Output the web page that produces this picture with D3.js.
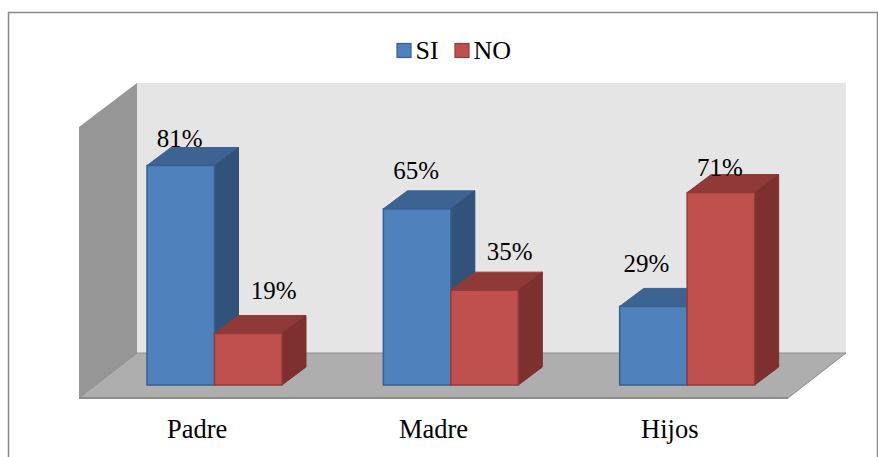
<!DOCTYPE html>
<html>
<head>
<meta charset="utf-8">
<script src="https://cdnjs.cloudflare.com/ajax/libs/d3/7.8.5/d3.min.js"></script>
<style>
html,body{margin:0;padding:0;background:#fff}
svg{display:block}
text{font-family:"Liberation Serif","Times New Roman",serif;fill:#000}
</style>
</head>
<body>
<svg id="chart" width="878" height="457"></svg>
<script>
const categories = ["Padre", "Madre", "Hijos"];
const seriesNames = ["SI", "NO"];
const siValues = [81, 65, 29];
const noValues = [19, 35, 71];
const seriesColors = {
  SI: {front: "#4f81bd", top: "#3c6391", side: "#315379", edge: "#38608f"},
  NO: {front: "#c0504d", top: "#8f3a38", side: "#7d302e", edge: "#8f3c3a"}
};
// Hand-placed value labels: nudge from the centre of the bar's front face, and height above its top
const labelNudge = {
  Padre: {SI: [-1, 18], NO: [25.5, 35]},
  Madre: {SI: [-1, 29.5], NO: [25, 30]},
  Hijos: {SI: [-7, 34], NO: [-1, 17]}
};

const svg = d3.select("#chart");

// Projection of the 3D box: the front plane is shifted by this much to reach the back plane
const floorFrontY = 398, floorBackY = 353, wallTopBackY = 83;
const plotLeft = 79, plotRight = 788, backShiftX = 58;
const baseY = 385, barDepthX = 24, barDepthY = 18;

const x0 = d3.scaleBand().domain(categories).range([plotLeft, plotRight]);
const x1 = d3.scaleBand().domain(seriesNames).range([147, 282]);
const groupShift = c => x0(c) - x0(categories[0]);
const y = d3.scaleLinear().domain([0, 100]).range([baseY, baseY - 271]);

const poly = pts => "M" + pts.map(p => p.join(",")).join("L") + "Z";

// Chart frame
svg.append("path").attr("d", "M8.5,457V12.5H877.5V457")
  .attr("fill", "none").attr("stroke", "#8a8a8a").attr("stroke-width", 1.5);

// Walls and floor
svg.append("path").attr("fill", "#e5e5e5")
  .attr("d", poly([[plotLeft + backShiftX, wallTopBackY], [plotRight + backShiftX, wallTopBackY], [plotRight + backShiftX, floorBackY], [plotLeft + backShiftX, floorBackY]]));
svg.append("path").attr("fill", "#969696")
  .attr("d", poly([[plotLeft, 127], [plotLeft + backShiftX, wallTopBackY], [plotLeft + backShiftX, floorBackY], [plotLeft, floorFrontY]]));
svg.append("path").attr("fill", "#aeaeae").attr("stroke", "#8c8c8c").attr("stroke-width", 1)
  .attr("d", poly([[plotLeft, floorFrontY], [plotLeft + backShiftX, floorBackY], [plotRight + backShiftX, floorBackY], [plotRight, floorFrontY]]));
svg.append("line").attr("x1", plotLeft).attr("x2", plotRight).attr("y1", floorFrontY).attr("y2", floorFrontY)
  .attr("stroke", "#8c8c8c").attr("stroke-width", 2);

// Bars, one group per category with SI behind NO
const rows = categories.map((c, i) => ({c, SI: siValues[i], NO: noValues[i]}));
const marks = rows.flatMap(r => seriesNames.map(s => ({c: r.c, s, v: r[s]})));

const bars = svg.append("g").selectAll("g").data(marks).join("g");
const bx = d => x1(d.s) + groupShift(d.c);
bars.append("path")
  .attr("d", d => { const l = bx(d), r = l + x1.bandwidth(), t = y(d.v);
    return poly([[l, t], [l + barDepthX, t - barDepthY], [r + barDepthX, t - barDepthY], [r, t]]); })
  .attr("fill", d => seriesColors[d.s].top)
  .attr("stroke", d => seriesColors[d.s].top).attr("stroke-width", 1);
bars.append("path")
  .attr("d", d => { const r = bx(d) + x1.bandwidth(), t = y(d.v);
    return poly([[r, t], [r + barDepthX, t - barDepthY], [r + barDepthX, baseY - barDepthY], [r, baseY]]); })
  .attr("fill", d => seriesColors[d.s].side)
  .attr("stroke", d => seriesColors[d.s].side).attr("stroke-width", 1);
bars.append("rect")
  .attr("x", bx).attr("y", d => y(d.v))
  .attr("width", x1.bandwidth()).attr("height", d => baseY - y(d.v))
  .attr("fill", d => seriesColors[d.s].front)
  .attr("stroke", d => seriesColors[d.s].edge).attr("stroke-width", 1.5);

// Value labels
svg.append("g").selectAll("text").data(marks).join("text")
  .attr("x", d => bx(d) + x1.bandwidth() / 2 + labelNudge[d.c][d.s][0])
  .attr("y", d => y(d.v) - labelNudge[d.c][d.s][1])
  .attr("text-anchor", "middle").attr("font-size", 25)
  .text(d => d.v + "%");

// Category labels
svg.append("g").selectAll("text").data(categories).join("text")
  .attr("x", c => x0(c) + x0.bandwidth() / 2)
  .attr("y", 438)
  .attr("text-anchor", "middle").attr("font-size", 26.5)
  .text(c => c);

// Legend
const legendX = {SI: 397, NO: 455};
const legend = svg.append("g").selectAll("g").data(seriesNames).join("g")
  .attr("transform", s => `translate(${legendX[s]},43.5)`);
legend.append("rect").attr("width", 14).attr("height", 14)
  .attr("fill", s => seriesColors[s].front).attr("stroke", s => seriesColors[s].edge).attr("stroke-width", 1.2);
legend.append("text").attr("x", 18.5).attr("y", 15.5).attr("font-size", 26).text(s => s);
</script>
</body>
</html>
